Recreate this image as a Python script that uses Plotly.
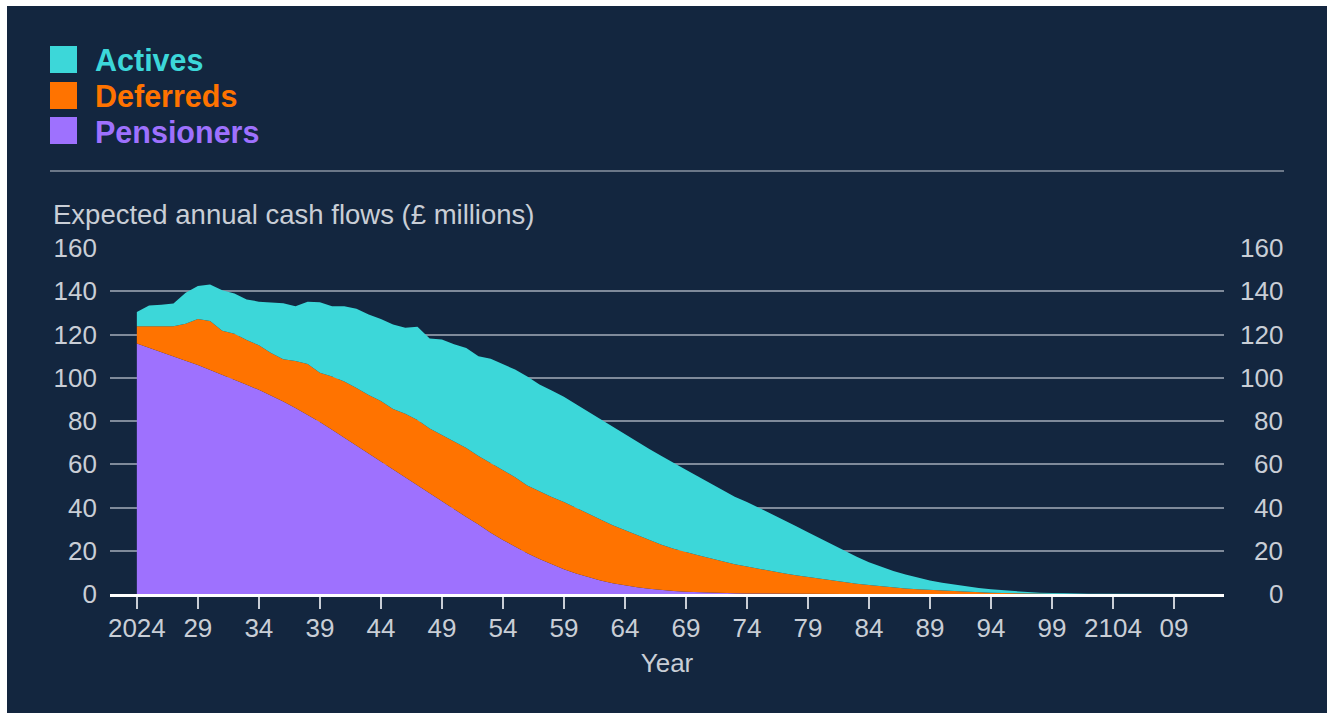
import plotly.graph_objects as go

# ---- data (£ millions per year) ----
years = list(range(2024, 2114))

pensioners = [
    115.8, 113.9, 111.9, 109.9, 107.9, 105.9, 103.7, 101.4, 99.1, 96.8,
    94.4, 91.8, 89.0, 86.0, 82.8, 79.5, 75.9, 72.2, 68.5, 64.8,
    61.1, 57.4, 53.7, 50.0, 46.3, 42.7, 39.1, 35.6, 32.1, 28.3,
    25.0, 21.8, 18.9, 16.2, 13.7, 11.5, 9.5, 7.8, 6.3, 5.0,
    4.0, 3.1, 2.4, 1.8, 1.4, 1.05, 0.8, 0.6, 0.45, 0.33,
    0.24, 0.17, 0.12, 0.08, 0.05, 0.03, 0.02, 0.01, 0, 0,
    0, 0, 0, 0, 0, 0, 0, 0, 0, 0,
    0, 0, 0, 0, 0, 0, 0, 0, 0, 0,
    0, 0, 0, 0, 0, 0, 0, 0, 0, 0,
]

deferreds = [
    8.0, 9.8, 11.9, 13.9, 17.1, 21.3, 22.5, 20.3, 21.3, 20.6,
    20.6, 19.7, 19.5, 21.8, 23.6, 22.8, 24.7, 26.1, 26.8, 27.2,
    28.2, 28.1, 29.7, 30.5, 30.2, 30.8, 31.4, 31.9, 31.7, 32.2,
    32.3, 32.2, 31.3, 31.3, 31.1, 31.1, 30.3, 29.2, 28.1, 26.8,
    25.5, 24.1, 22.4, 21.0, 19.5, 18.25, 17.1, 15.9, 14.65, 13.47,
    12.46, 11.43, 10.48, 9.52, 8.65, 7.87, 6.98, 6.19, 5.4, 4.7,
    4.2, 3.6, 3.0, 2.6, 2.2, 1.9, 1.6, 1.3, 1.1, 0.8,
    0.6, 0.45, 0.3, 0.2, 0.13, 0.08, 0.05, 0.03, 0.02, 0.01,
    0, 0, 0, 0, 0, 0, 0, 0, 0, 0,
]

actives = [
    6.6, 9.7, 9.9, 10.5, 14.3, 15.2, 16.9, 18.8, 18.6, 18.8,
    20.2, 23.3, 25.9, 25.3, 28.7, 32.6, 32.5, 34.8, 36.6, 37.2,
    37.9, 39.1, 39.7, 43.1, 41.6, 44.2, 45.0, 46.3, 46.2, 48.3,
    49.0, 49.8, 50.4, 49.4, 49.3, 48.6, 47.9, 47.2, 46.3, 45.5,
    44.3, 43.2, 42.3, 41.0, 39.6, 38.1, 36.4, 34.7, 33.0, 31.2,
    29.9, 28.3, 26.6, 24.8, 22.8, 20.6, 18.6, 16.5, 14.5, 12.5,
    10.5, 8.9, 7.6, 6.4, 5.4, 4.4, 3.6, 3.0, 2.4, 2.0,
    1.6, 1.25, 0.95, 0.7, 0.47, 0.32, 0.2, 0.12, 0.08, 0.05,
    0.04, 0.02, 0.01, 0, 0, 0, 0, 0, 0, 0,
]

series_names = ["Pensioners", "Deferreds", "Actives"]
series_colors = ["#9E71FE", "#FF7300", "#3CD7D9"]

tick_years = list(range(2024, 2110, 5))
tick_text = ["2024", "29", "34", "39", "44", "49", "54", "59", "64", "69",
             "74", "79", "84", "89", "94", "99", "2104", "09"]
y_ticks = list(range(0, 161, 20))

# ---- page geometry ----
W, H = 1327, 713
L, R, T, B = 110, 1284, 248, 594          # paper box (plot area incl. right label column)
PW, PH = R - L, B - T
x_plot_right = 1224                        # right end of the chart area


def px(xp):
    return (xp - L) / PW


def py(yp):
    return (B - yp) / PH


NAVY = "#13263F"
TEXT = "#C9CED6"
GRID = "#7F8A9A"
FONT = "Liberation Sans, Arial, sans-serif"

fig = go.Figure()
for name, vals, col in zip(series_names, [pensioners, deferreds, actives], series_colors):
    fig.add_trace(go.Scatter(
        x=years, y=vals, name=name, mode="lines",
        stackgroup="flows", line=dict(width=0, color=col),
        fillcolor=col, showlegend=False,
    ))

shapes = [
    # dark panel
    dict(type="rect", xref="paper", yref="paper",
         x0=px(7), x1=px(W + 5), y0=py(H + 5), y1=py(6),
         fillcolor=NAVY, line=dict(width=0), layer="below"),
    # divider under the key
    dict(type="line", xref="paper", yref="paper",
         x0=px(50), x1=px(1284), y0=py(171), y1=py(171),
         line=dict(color="#6B7788", width=2)),
]

annotations = [
    dict(text="Expected annual cash flows (£ millions)", xref="paper", yref="paper",
         x=px(51), y=py(214), xanchor="left", yanchor="middle", showarrow=False,
         font=dict(family=FONT, size=27.5, color=TEXT)),
]

# value labels repeated on the right-hand side, right-aligned
for v in y_ticks:
    annotations.append(dict(text=str(v), xref="paper", yref="y",
                            x=px(1285), y=v, xanchor="right", yanchor="middle",
                            showarrow=False,
                            font=dict(family=FONT, size=26, color=TEXT)))

# key: coloured squares with bold labels, top to bottom
key_rows = [("Actives", "#3CD7D9", 59.5), ("Deferreds", "#FF7300", 95.5),
            ("Pensioners", "#9E71FE", 130.5)]
for label, col, yc in key_rows:
    shapes.append(dict(type="rect", xref="paper", yref="paper",
                       x0=px(50), x1=px(77), y0=py(yc + 13.5), y1=py(yc - 13.5),
                       fillcolor=col, line=dict(width=0)))
    annotations.append(dict(text=label, xref="paper", yref="paper",
                            x=px(93), y=py(yc + 1), xanchor="left", yanchor="middle",
                            showarrow=False,
                            font=dict(family=FONT, size=30.5, color=col, weight="bold")))

fig.update_layout(
    width=W, height=H,
    margin=dict(l=L, r=W - R, t=T, b=H - B, pad=0),
    paper_bgcolor="white",
    plot_bgcolor="rgba(0,0,0,0)",
    font=dict(family=FONT, size=26, color=TEXT),
    shapes=shapes,
    annotations=annotations,
    xaxis=dict(
        domain=[0, (x_plot_right - L) / PW],
        range=[2021.8, 2113.1],
        tickmode="array", tickvals=tick_years, ticktext=tick_text,
        ticks="outside", ticklen=12, tickwidth=1.5, tickcolor=TEXT,
        showline=True, linecolor="white", linewidth=2.5,
        showgrid=False, zeroline=False,
        ticklabelstandoff=-3,
        tickfont=dict(size=26, color=TEXT),
        title=dict(text="Year", font=dict(size=26, color=TEXT), standoff=12),
    ),
    yaxis=dict(
        range=[0, 160], tickmode="array", tickvals=y_ticks,
        showgrid=True, gridcolor=GRID, gridwidth=1.5,
        zeroline=False, showline=False, ticks="",
        ticklabelstandoff=12,
        tickfont=dict(size=26, color=TEXT),
    ),
)

fig.write_html("out.html")
